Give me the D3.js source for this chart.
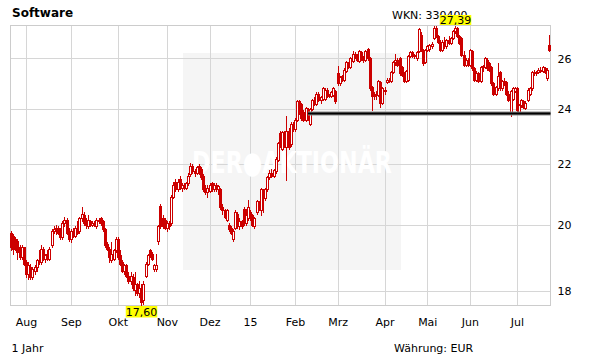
<!DOCTYPE html>
<html><head><meta charset="utf-8">
<script src="https://cdn.jsdelivr.net/npm/d3@7"></script>
<style>
body{margin:0;background:#fff}
svg{display:block}
text{font-family:"DejaVu Sans",Verdana,sans-serif}
</style>
</head><body>
<svg id="c" width="611" height="364"></svg>
<script>
// ---- DATA (daily OHLC, trading days 23.07.2014 - 22.07.2015) ----
const openP=[
19.75,19.65,19.55,19.5,19.3,19.0,19.3,18.85,18.5,18.7,
18.4,18.6,18.7,18.9,18.85,19.25,18.95,19.1,18.95,19.35,
19.8,19.85,19.9,19.85,19.6,20.05,20.15,19.75,19.55,19.8,
19.65,19.9,19.8,20.2,20.3,20.05,19.95,20.1,20.0,20.05,
19.95,20.15,20.2,20.1,19.85,19.4,19.25,18.9,18.95,19.2,
19.55,19.05,18.85,18.6,18.75,18.45,18.3,18.4,18.05,18.2,
17.95,18.1,17.75,18.45,18.8,19.2,19.1,18.65,18.65,19.5,
20.6,20.2,20.15,19.9,20.05,20.05,20.9,21.4,21.15,21.5,
21.2,21.3,21.2,21.35,21.65,21.95,21.75,21.7,21.95,21.85,
21.6,21.2,21.05,21.1,21.35,21.15,21.3,21.15,21.15,20.55,
20.45,20.15,20.0,19.9,19.55,19.9,20.35,19.95,20.1,20.5,
20.05,20.2,20.4,20.3,19.95,20.4,20.7,20.45,21.1,20.85,
21.15,21.55,21.7,21.6,21.75,22.15,23.1,22.55,23.15,22.6,
23.2,22.7,23.45,23.25,23.6,24.3,24.2,23.9,23.6,24.0,
23.45,24.0,24.35,24.2,24.6,24.35,24.4,24.4,24.75,24.5,
24.5,24.55,24.7,25.4,25.0,25.3,25.15,25.5,25.8,25.65,
25.9,26.2,26.1,25.9,26.25,26.0,25.95,26.4,26.0,24.85,
24.5,24.55,24.55,25.05,24.25,24.7,25.05,25.15,25.1,25.45,
25.85,25.95,26.0,25.65,25.35,25.1,25.15,26.1,26.25,26.1,
26.0,26.3,27.0,26.35,25.85,26.35,26.4,26.5,26.85,27.3,
26.95,26.7,26.35,26.7,26.5,26.75,26.65,26.85,27.15,27.3,
26.95,26.85,26.15,25.75,25.95,25.75,26.3,25.6,25.15,25.4,
25.1,25.65,25.65,25.95,25.8,25.65,25.0,24.6,24.8,25.45,
24.8,25.1,25.05,24.6,23.9,24.4,24.7,24.8,23.85,24.15,
24.3,24.05,24.35,24.6,24.8,25.45,25.4,25.45,25.55,25.5,
25.6,25.2,26.55];
const highP=[
19.8,19.7,19.6,19.55,19.35,19.35,19.3,18.9,18.85,18.8,
18.7,18.75,18.95,19.2,19.35,19.3,19.1,19.2,19.3,19.85,
19.95,20.0,19.95,19.9,20.1,20.25,20.2,19.9,19.85,19.9,
19.95,20.1,20.25,20.55,20.4,20.2,20.3,20.15,20.1,20.1,
20.2,20.2,20.25,20.15,19.9,19.45,19.3,19.45,19.25,19.6,
19.6,19.2,18.9,18.8,18.8,18.55,18.55,18.5,18.55,18.25,
18.3,18.2,18.3,18.85,19.1,19.25,19.15,18.8,19.1,20.0,
20.65,20.3,20.2,20.1,20.1,20.95,21.4,21.5,21.5,21.6,
21.35,21.35,21.4,21.7,22.05,22.0,21.85,21.95,22.0,21.9,
21.65,21.3,21.3,21.35,21.4,21.35,21.35,21.3,21.2,20.65,
20.5,20.5,20.05,19.95,19.85,20.45,20.4,20.2,20.15,20.55,
20.5,20.8,20.45,20.35,20.25,20.8,20.75,21.2,21.15,21.2,
21.6,21.8,21.85,21.85,22.25,22.8,23.2,23.2,23.2,23.75,
23.3,23.5,23.5,23.65,24.35,24.35,24.25,23.95,24.1,24.05,
24.05,24.4,24.45,24.65,24.65,24.5,24.85,24.8,24.8,24.6,
24.7,24.85,24.75,25.7,25.3,25.35,25.6,25.9,25.85,26.05,
26.3,26.25,26.2,26.35,26.3,26.1,26.35,26.45,26.05,24.9,
24.65,24.7,25.15,25.1,24.85,24.85,25.2,25.2,25.5,25.9,
26.2,26.0,26.05,25.7,25.45,25.55,26.15,26.3,26.3,26.2,
26.3,27.3,27.1,26.4,26.4,26.55,26.6,26.7,27.35,27.35,
27.0,26.75,26.75,26.9,26.8,26.95,26.9,27.2,27.39,27.32,
27.0,26.9,26.3,26.0,26.0,26.4,26.35,25.65,25.5,25.45,
25.7,25.75,26.05,26.0,25.85,25.7,25.05,24.9,25.8,25.5,
25.15,25.2,25.1,24.7,24.75,24.85,24.85,24.85,24.2,24.4,
24.35,24.3,24.8,24.85,25.5,25.55,25.5,25.6,25.65,25.7,
25.65,25.6,27.0];
const lowP=[
19.2,19.1,19.2,18.95,18.95,18.95,18.75,18.4,18.35,18.35,
18.35,18.5,18.6,18.8,18.8,18.9,18.85,18.9,18.9,19.3,
19.75,19.7,19.7,19.55,19.55,19.95,19.7,19.5,19.45,19.6,
19.6,19.7,19.75,20.1,20.0,19.9,19.9,19.95,19.95,19.95,
19.9,20.05,20.0,19.8,19.3,19.2,18.85,18.85,18.9,19.15,
18.95,18.75,18.55,18.5,18.4,18.25,18.2,18.05,17.9,17.9,
17.85,17.6,17.65,18.4,18.75,19.0,18.9,18.6,18.6,19.4,
19.9,19.9,19.85,19.8,19.85,20.0,20.85,21.1,21.1,21.15,
21.1,21.15,21.15,21.3,21.6,21.7,21.6,21.65,21.65,21.5,
21.1,21.0,20.9,21.05,21.1,21.1,21.1,21.0,20.5,20.35,
20.2,20.1,19.8,19.7,19.5,19.85,19.9,19.85,19.9,20.0,
20.0,20.15,20.15,19.95,19.9,20.35,20.45,20.3,20.4,20.8,
21.1,21.5,21.55,21.55,21.7,22.1,22.6,22.5,22.6,21.45,
22.55,22.65,23.2,23.2,23.55,23.8,23.6,23.55,23.55,23.6,
23.4,23.95,24.15,24.15,24.3,24.25,24.35,24.35,24.45,24.45,
24.45,24.5,24.25,24.95,24.95,25.1,25.1,25.45,25.6,25.6,
25.85,26.0,25.9,25.85,25.95,25.85,25.9,25.95,24.75,23.95,
24.4,24.4,24.5,24.1,24.2,24.6,25.0,25.05,25.05,25.4,
25.75,25.7,25.35,25.3,25.05,25.05,25.1,26.05,26.05,26.0,
25.95,26.25,26.3,25.75,25.8,26.3,26.3,26.45,26.8,26.9,
26.65,26.3,26.3,26.45,26.45,26.6,26.6,26.8,27.05,26.9,
26.6,26.1,25.7,25.7,25.7,25.7,25.55,25.1,25.1,25.05,
25.05,25.5,25.6,25.55,25.5,24.95,24.55,24.55,24.75,24.75,
24.75,24.95,24.55,24.3,23.75,24.35,24.65,23.9,23.8,24.1,
24.05,24.0,24.3,24.55,24.75,25.35,25.35,25.4,25.45,25.45,
25.4,25.15,26.3];
const closeP=[
19.3,19.25,19.3,19.15,19.0,19.3,18.8,18.5,18.75,18.4,
18.65,18.7,18.9,18.85,19.25,18.95,19.05,18.95,19.25,19.8,
19.85,19.9,19.75,19.6,20.05,20.15,19.75,19.55,19.8,19.65,
19.9,19.75,20.2,20.35,20.05,20.0,20.15,20.0,20.05,20.0,
20.15,20.1,20.05,19.85,19.35,19.25,19.0,19.1,19.2,19.55,
19.0,18.8,18.6,18.75,18.45,18.3,18.45,18.1,18.2,17.95,
18.1,17.7,18.2,18.8,19.05,19.05,18.95,18.75,18.75,19.95,
19.95,19.95,19.9,20.05,19.95,20.9,21.3,21.15,21.4,21.2,
21.3,21.2,21.35,21.6,21.95,21.75,21.7,21.9,21.7,21.55,
21.15,21.05,21.2,21.3,21.15,21.3,21.15,21.25,20.55,20.45,
20.25,20.45,19.85,19.75,19.8,20.4,19.95,20.1,19.95,20.05,
20.3,20.55,20.2,20.0,20.2,20.75,20.5,21.15,20.85,21.15,
21.55,21.7,21.6,21.8,22.2,22.75,22.65,23.15,22.7,23.2,
22.6,23.45,23.25,23.6,24.3,23.85,23.65,23.6,24.05,23.65,
24.0,24.35,24.2,24.6,24.35,24.45,24.8,24.75,24.5,24.55,
24.65,24.8,24.3,25.0,25.25,25.15,25.55,25.85,25.65,26.0,
26.2,26.1,25.95,26.3,26.0,25.95,26.3,26.0,24.8,24.5,
24.55,24.6,25.1,24.25,24.8,24.75,25.15,25.1,25.45,25.85,
25.95,25.75,25.4,25.35,25.1,25.5,26.1,26.25,26.1,26.15,
26.25,27.25,26.35,25.8,26.35,26.5,26.55,26.6,27.3,26.95,
26.7,26.35,26.7,26.5,26.75,26.65,26.85,27.15,27.3,26.95,
26.65,26.15,25.75,25.95,25.75,26.35,25.6,25.15,25.4,25.1,
25.65,25.7,26.0,25.6,25.55,25.0,24.6,24.85,25.3,24.8,
25.1,25.0,24.6,24.35,24.7,24.8,24.8,23.95,24.15,24.35,
24.1,24.25,24.75,24.8,25.45,25.4,25.45,25.55,25.5,25.65,
25.45,25.55,26.35];
const monthLabels=["Aug","Sep","Okt","Nov","Dez","15","Feb","Mrz","Apr","Mai","Jun","Jul"];
const monthStartIdx=[7,28,50,73,93,112,133,153,175,195,215,237];
const yTicks=[18,20,22,24,26];
const supportLevel=23.87;
const supportStartIdx=139;

// ---- CHART ----
const svg=d3.select("#c");
const L=10.5,R=550.5,T=25.5,B=305.5;
const RED="#cc0000", GRID="#d6d6d6";
const x=d3.scaleBand().domain(d3.range(closeP.length)).range([L,R]);
const cx=i=>Math.floor(x(i)+x.bandwidth()/2);
const y=d3.scaleLog().domain([d3.min(lowP),d3.max(highP)]).range([B,T]);
const py=v=>Math.round(y(v));

// watermark background
svg.append("rect").attr("x",183).attr("y",53).attr("width",218).attr("height",217).attr("fill","#f5f5f5");

// grid
const g=svg.append("g");
g.selectAll("line.v").data(monthStartIdx).join("line")
  .attr("x1",d=>cx(d)+0.5).attr("x2",d=>cx(d)+0.5).attr("y1",T).attr("y2",B)
  .attr("stroke",GRID).attr("stroke-width",1);
g.selectAll("line.h").data(yTicks).join("line")
  .attr("x1",L).attr("x2",R).attr("y1",d=>py(d)+0.5).attr("y2",d=>py(d)+0.5)
  .attr("stroke",GRID).attr("stroke-width",1);

// watermark text
svg.append("text").attr("x",192).attr("y",172.5)
  .attr("textLength",200).attr("lengthAdjust","spacingAndGlyphs")
  .attr("font-size",31).attr("font-weight","bold").attr("fill","#ffffff")
  .style("font-family","'DejaVu Sans',sans-serif")
  .text("DER\u25CFAKTIONÄR");

// frame
svg.append("rect").attr("x",L).attr("y",T).attr("width",R-L).attr("height",B-T)
  .attr("fill","none").attr("stroke","#cccccc");

// candles
const idx=d3.range(closeP.length);
const cg=svg.append("g");
cg.selectAll("line.w").data(idx).join("line")
  .attr("x1",i=>cx(i)+0.5).attr("x2",i=>cx(i)+0.5)
  .attr("y1",i=>py(highP[i])).attr("y2",i=>py(lowP[i])+1)
  .attr("stroke",RED).attr("stroke-width",1);
cg.selectAll("rect").data(idx).join("rect")
  .attr("x",i=>cx(i)-0.5).attr("width",2)
  .attr("y",i=>py(Math.max(openP[i],closeP[i]))+0.5)
  .attr("height",i=>Math.max(0,py(Math.min(openP[i],closeP[i]))-py(Math.max(openP[i],closeP[i]))))
  .attr("fill",i=>closeP[i]>=openP[i]?"#ffffff":RED)
  .attr("stroke",RED).attr("stroke-width",1);

// support line
const sy=py(supportLevel)+0.5;
svg.append("line").attr("x1",cx(supportStartIdx)).attr("x2",R).attr("y1",sy).attr("y2",sy)
  .attr("stroke","#8a8a8a").attr("stroke-width",4);
svg.append("line").attr("x1",cx(supportStartIdx)).attr("x2",R).attr("y1",sy).attr("y2",sy)
  .attr("stroke","#000000").attr("stroke-width",2);

// axes
const ya=svg.append("g").attr("transform",`translate(${R},0)`)
  .call(d3.axisRight(y).tickValues(yTicks).tickSize(0).tickPadding(7).tickFormat(d3.format("d")));
const xa=svg.append("g").attr("transform",`translate(0,${B})`)
  .call(d3.axisBottom(x).tickValues(monthStartIdx).tickSize(0).tickPadding(13)
    .tickFormat(d=>monthLabels[monthStartIdx.indexOf(d)]));
[ya,xa].forEach(a=>{
  a.select(".domain").remove();
  a.selectAll("text").attr("fill","#000").style("font-family","'DejaVu Sans',Verdana,sans-serif").style("font-size","11px");
});

// extreme labels
const fmt=v=>d3.format(".2f")(v).replace(".",",");
function extLabel(i,v,baseline,boxTop,boxH){
  const t=svg.append("text").attr("x",cx(i)+0.5).attr("y",baseline).attr("text-anchor","middle")
    .attr("font-size",11).attr("fill","#000").text(fmt(v));
  const bb=t.node().getBBox();
  svg.insert("rect",()=>t.node()).attr("x",bb.x).attr("y",boxTop).attr("width",bb.width).attr("height",boxH).attr("fill","#ffff00");
}

// titles
svg.append("text").attr("x",12).attr("y",17).attr("font-size",12).attr("font-weight","bold").attr("fill","#000").text("Software");
svg.append("text").attr("x",392).attr("y",18.5).attr("font-size",11).attr("fill","#000").text("WKN: 330400");
svg.append("text").attr("x",11.5).attr("y",351.5).attr("font-size",11).attr("fill","#000").text("1 Jahr");
svg.append("text").attr("x",394).attr("y",351.5).attr("font-size",11).attr("fill","#000").text("Währung: EUR");

const iMax=highP.indexOf(d3.max(highP)), iMin=lowP.indexOf(d3.min(lowP));
extLabel(iMax,highP[iMax],23.5,15,10);
extLabel(iMin,lowP[iMin],315.5,306,11.5);
</script>
</body></html>
